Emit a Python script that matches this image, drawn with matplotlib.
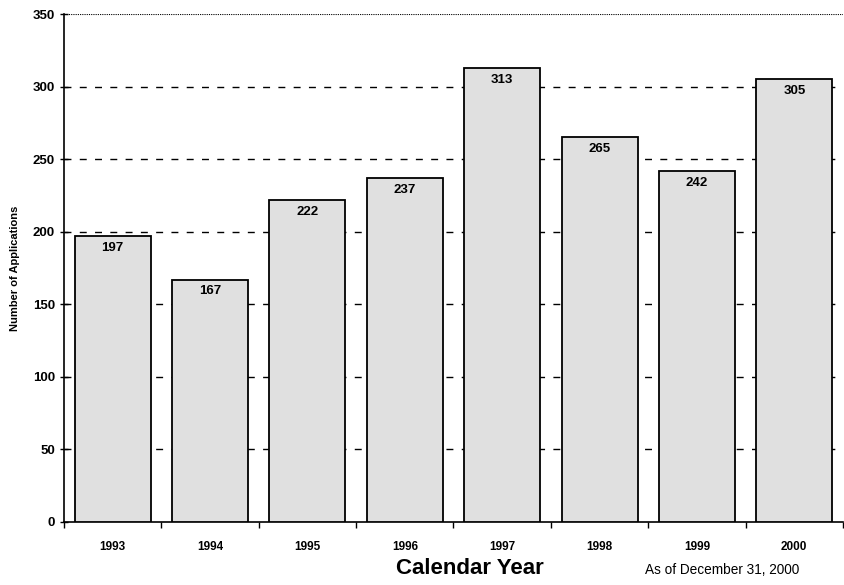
import matplotlib
matplotlib.use("Agg")
import matplotlib.pyplot as plt
import numpy as np

plt.rcParams['font.family'] = ['Liberation Sans', 'DejaVu Sans']

years = ["1993", "1994", "1995", "1996", "1997", "1998", "1999", "2000"]
applications = [197, 167, 222, 237, 313, 265, 242, 305]

fig = plt.figure(figsize=(8.45, 5.85), dpi=100)
ax = fig.add_axes([0.0757, 0.1077, 0.9219, 0.8683])

x = np.arange(len(years))
bars = ax.bar(x, applications, width=0.78, color="#e0e0e0", edgecolor="black", linewidth=1.3, zorder=3)

for xi, v in zip(x, applications):
    ax.text(xi, v - 4, str(v), ha="center", va="top", fontsize=9.5, fontweight="bold", zorder=4)

ax.set_xlim(-0.5, len(years) - 0.5)
ax.set_ylim(0, 350)
ax.set_yticks(np.arange(0, 351, 50))
for y in range(50, 301, 50):
    ax.axhline(y, color="black", linestyle=(0, (5, 6)), linewidth=1.0, zorder=1)
ax.axhline(350, color="black", linestyle=(0, (1, 1)), linewidth=0.8, zorder=1)

ax.set_xticks(x)
ax.set_xticklabels(years, fontsize=8.5, fontweight="bold")
ax.set_xticks(np.arange(-0.5, len(years), 1), minor=True)
ax.tick_params(axis="x", which="major", length=0, pad=14)
ax.tick_params(axis="x", which="minor", length=4, direction="out", width=1)
ax.tick_params(axis="y", length=6, direction="inout", width=1, labelsize=9.5)
for lbl in ax.get_yticklabels():
    lbl.set_fontweight("bold")

for s in ["top", "right"]:
    ax.spines[s].set_visible(False)
ax.spines["left"].set_linewidth(1.2)
ax.spines["bottom"].set_linewidth(1.2)

ax.set_ylabel("Number of Applications", fontsize=8, fontweight="bold", labelpad=9)
fig.text(0.556, 0.029, "Calendar Year", ha="center", va="center", fontsize=16, fontweight="bold")
fig.text(0.855, 0.026, "As of December 31, 2000", ha="center", va="center", fontsize=9.8)

fig.savefig("out.png", dpi=100)
